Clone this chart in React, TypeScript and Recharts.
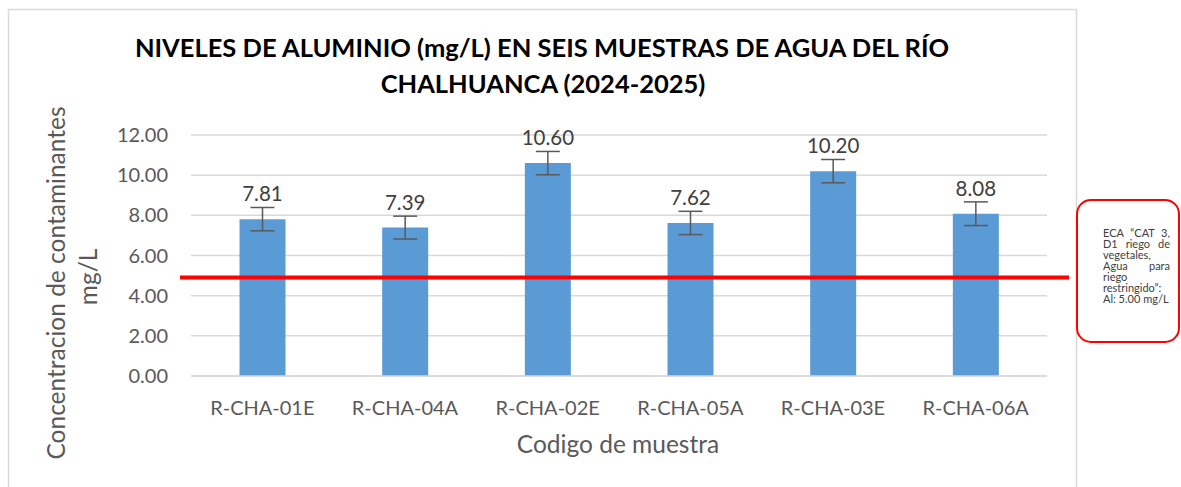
import React from 'react';
import { BarChart, Bar, XAxis, YAxis, CartesianGrid, ErrorBar, LabelList, ReferenceLine } from 'recharts';

const muestras = ['R-CHA-01E', 'R-CHA-04A', 'R-CHA-02E', 'R-CHA-05A', 'R-CHA-03E', 'R-CHA-06A'];
const aluminio = [7.81, 7.39, 10.6, 7.62, 10.2, 8.08];
const errores = [0.58, 0.57, 0.58, 0.58, 0.58, 0.59];
const yTicks = [0, 2, 4, 6, 8, 10, 12];
// the red ECA line sits a bit under 5 in the original drawing
const limiteECA = 4.9;

const tituloLineas = ['NIVELES DE ALUMINIO (mg/L) EN SEIS MUESTRAS DE AGUA DEL RÍO', 'CHALHUANCA (2024-2025)'];
const ejeYLineas = ['Concentracion de contaminantes', 'mg/L'];
const ejeXTitulo = 'Codigo de muestra';
const notaLineas = ['ECA \u201CCAT 3,', 'D1 riego de', 'vegetales,', 'Agua para', 'riego', 'restringido\u201D:', 'Al: 5.00 mg/L'];
const notaJustificada = [true, true, false, true, false, false, false];

const data = muestras.map((m, i) => ({ muestra: m, valor: aluminio[i], error: errores[i] }));

const FONT = 'Lato, sans-serif';
const GRIS = '#595959';

const LineaECA = (props: any) => (
  <line x1={props.x1 - 11} y1={props.y1} x2={props.x2 + 22} y2={props.y2} stroke="#FF0000" strokeWidth={4} />
);

const App: React.FC = () => {
  return (
    <div style={{ position: 'absolute', left: 0, top: 0, width: 1181, height: 487, background: '#fff' }}>
      <BarChart
        width={1181}
        height={487}
        data={data}
        margin={{ top: 135, right: 134, bottom: 0, left: 0 }}
        barCategoryGap="34%"
      >
        <CartesianGrid vertical={false} stroke="#D9D9D9" strokeWidth={1.5} />
        <XAxis
          dataKey="muestra"
          height={111}
          interval={0}
          tickLine={false}
          tickSize={0}
          tickMargin={25}
          axisLine={{ stroke: '#D9D9D9', strokeWidth: 1.5 }}
          tick={{ fill: GRIS, fontSize: 20, fontFamily: FONT }}
        />
        <YAxis
          width={191}
          domain={[0, 12]}
          ticks={yTicks}
          tickFormatter={(v: number) => v.toFixed(2)}
          axisLine={false}
          tickLine={false}
          tickSize={0}
          tickMargin={23}
          tick={{ fill: GRIS, fontSize: 20, fontFamily: FONT }}
        />
        <Bar dataKey="valor" fill="#5B9BD5" isAnimationActive={false}>
          <ErrorBar dataKey="error" width={12} stroke={GRIS} strokeWidth={1.5} direction="y" />
          <LabelList
            dataKey="valor"
            position="top"
            offset={18}
            formatter={(v: any) => Number(v).toFixed(2)}
            fill="#404040"
            fontSize={20.5}
            fontFamily={FONT}
          />
        </Bar>
        <ReferenceLine y={limiteECA} shape={LineaECA} />
      </BarChart>

      <svg
        width={1181}
        height={487}
        style={{ position: 'absolute', left: 0, top: 0, pointerEvents: 'none' }}
        fontFamily={FONT}
      >
        <path d="M8.5 487 V9.5 H1076.5 V487" stroke="#D9D9D9" strokeWidth={1.5} fill="none" />

        <text x={542} y={57} textAnchor="middle" fontSize={25.5} fontWeight={700} fill="#000">
          {tituloLineas[0]}
        </text>
        <text x={543} y={93} textAnchor="middle" fontSize={25.5} fontWeight={700} fill="#000">
          {tituloLineas[1]}
        </text>

        <text transform="translate(65,283) rotate(-90)" textAnchor="middle" fontSize={24.5} fill={GRIS}>
          {ejeYLineas[0]}
        </text>
        <text transform="translate(97,277) rotate(-90)" textAnchor="middle" fontSize={24.5} fill={GRIS}>
          {ejeYLineas[1]}
        </text>

        <text x={618} y={453} textAnchor="middle" fontSize={24.5} fill={GRIS}>
          {ejeXTitulo}
        </text>

        <rect x={1077} y={200} width={102} height={142} rx={14} fill="#fff" stroke="#FF0000" strokeWidth={2} />
      </svg>

      <div
        style={{
          position: 'absolute',
          left: 1103,
          top: 226.9,
          width: 67,
          fontFamily: FONT,
          fontSize: 11,
          lineHeight: '11.1px',
          color: '#404040',
          whiteSpace: 'nowrap',
        }}
      >
        {notaLineas.map((t, i) => (
          <div
            key={t}
            style={{
              textAlign: notaJustificada[i] ? 'justify' : 'left',
              textAlignLast: notaJustificada[i] ? 'justify' : 'auto',
              whiteSpace: notaJustificada[i] ? 'normal' : 'nowrap',
            }}
          >
            {t}
          </div>
        ))}
      </div>
    </div>
  );
};

export default App;
